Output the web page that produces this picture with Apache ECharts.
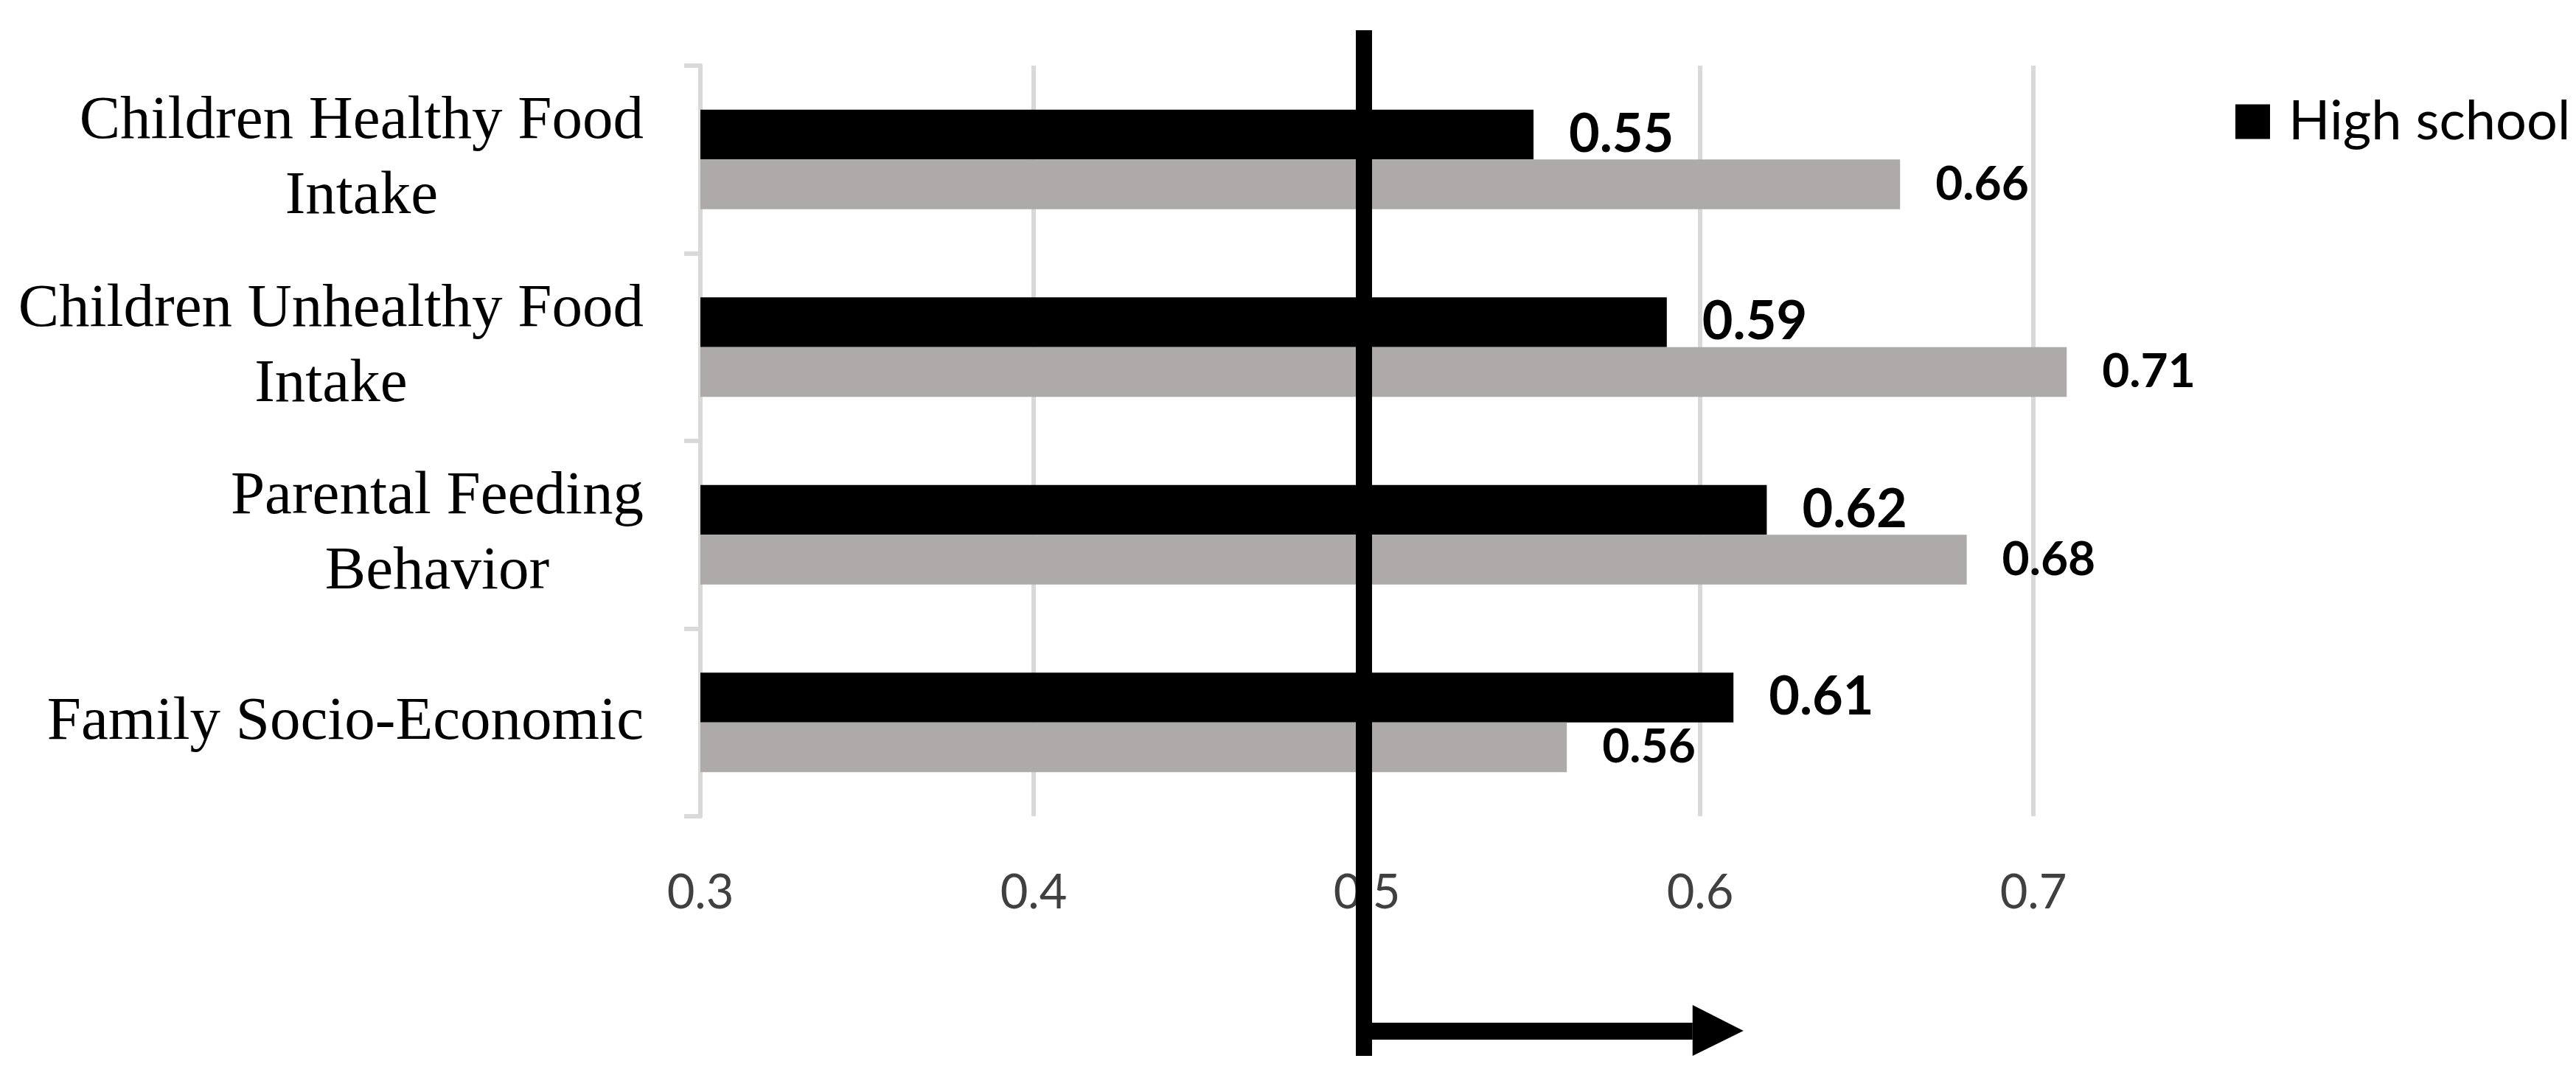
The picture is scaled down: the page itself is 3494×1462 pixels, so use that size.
<!DOCTYPE html>
<html>
<head>
<meta charset="utf-8">
<script src="https://cdn.jsdelivr.net/npm/echarts@6/dist/echarts.min.js"></script>
<style>
  html, body { margin: 0; padding: 0; background: #fff; }
  #chart { width: 3494px; height: 1462px; }
</style>
</head>
<body>
<div id="chart"></div>
<script>
// data
const categories = [
  'Children Healthy Food\nIntake',
  'Children Unhealthy Food\nIntake',
  'Parental Feeding\nBehavior',
  'Family Socio-Economic'
];
const highSchool = [0.55, 0.59, 0.62, 0.61];
const otherLevel = [0.66, 0.71, 0.68, 0.56];
const xMin = 0.3;
const xMax = 0.75;
const xStep = 0.1;
// reference line + arrow (in axis units)
const refValue = 0.5;
const arrowEnd = 0.613;

const chartDOM = document.getElementById('chart');
const chart = echarts.init(chartDOM, null, { renderer: 'canvas' });

const gridColor = '#d9d9d9';

const option = {
  animation: false,
  backgroundColor: '#fff',
  grid: { left: 950, right: 510, top: 89, bottom: 355, containLabel: false },
  legend: {
    data: ['High school'],
    left: 3027,
    top: 123,
    icon: 'rect',
    itemWidth: 47,
    itemHeight: 47,
    textStyle: { fontFamily: 'Lato', fontSize: 74, color: '#000', padding: [0, 0, 0, 20] }
  },
  xAxis: {
    type: 'value',
    min: xMin,
    max: xMax,
    interval: xStep,
    axisLine: { show: false },
    axisTick: { show: false },
    splitLine: { show: true, showMaxLine: false, lineStyle: { color: gridColor, width: 6 } },
    axisLabel: {
      margin: 72,
      showMaxLabel: false,
      fontFamily: 'Lato',
      fontSize: 65,
      color: '#404040',
      formatter: v => (Math.round(v * 10) / 10).toString()
    }
  },
  yAxis: {
    type: 'category',
    inverse: true,
    data: categories,
    axisLine: { show: true, lineStyle: { color: gridColor, width: 6 } },
    axisTick: { show: true, length: 22, lineStyle: { color: gridColor, width: 6 } },
    axisLabel: {
      margin: 77,
      formatter: v => v.split('\n').map(l => '{c|' + l + '}').join('\n'),
      rich: {
        c: {
          align: 'center',
          fontFamily: 'Liberation Serif',
          fontSize: 83,
          lineHeight: 102,
          color: '#000'
        }
      }
    }
  },
  series: [
    {
      name: 'High school',
      type: 'bar',
      data: highSchool,
      barGap: '0%',
      barCategoryGap: '47%',
      itemStyle: { color: '#000' },
      label: {
        show: true, position: 'right', distance: 48,
        fontFamily: 'Lato', fontWeight: 'bold', fontSize: 72, color: '#000'
      }
    },
    {
      name: 'University',
      type: 'bar',
      data: otherLevel,
      barGap: '0%',
      barCategoryGap: '47%',
      itemStyle: { color: '#aeaaaa' },
      label: {
        show: true, position: 'right', distance: 48,
        fontFamily: 'Lato', fontWeight: 'bold', fontSize: 64, color: '#000'
      }
    }
  ]
};
chart.setOption(option);

// hand-drawn style reference line near 0.5 with an arrow pointing right at the bottom
const x0 = chart.convertToPixel({ xAxisIndex: 0 }, refValue) - 4;
const x1 = chart.convertToPixel({ xAxisIndex: 0 }, arrowEnd);
chart.setOption({
  graphic: [
    { type: 'rect', z: 100, shape: { x: x0 - 11, y: 41, width: 22, height: 1391 }, style: { fill: '#000' } },
    { type: 'rect', z: 100, shape: { x: x0, y: 1387, width: x1 - 69 - x0, height: 23 }, style: { fill: '#000' } },
    { type: 'polygon', z: 100, shape: { points: [[x1 - 69, 1363], [x1, 1398], [x1 - 69, 1432]] }, style: { fill: '#000' } }
  ]
});
</script>
</body>
</html>
